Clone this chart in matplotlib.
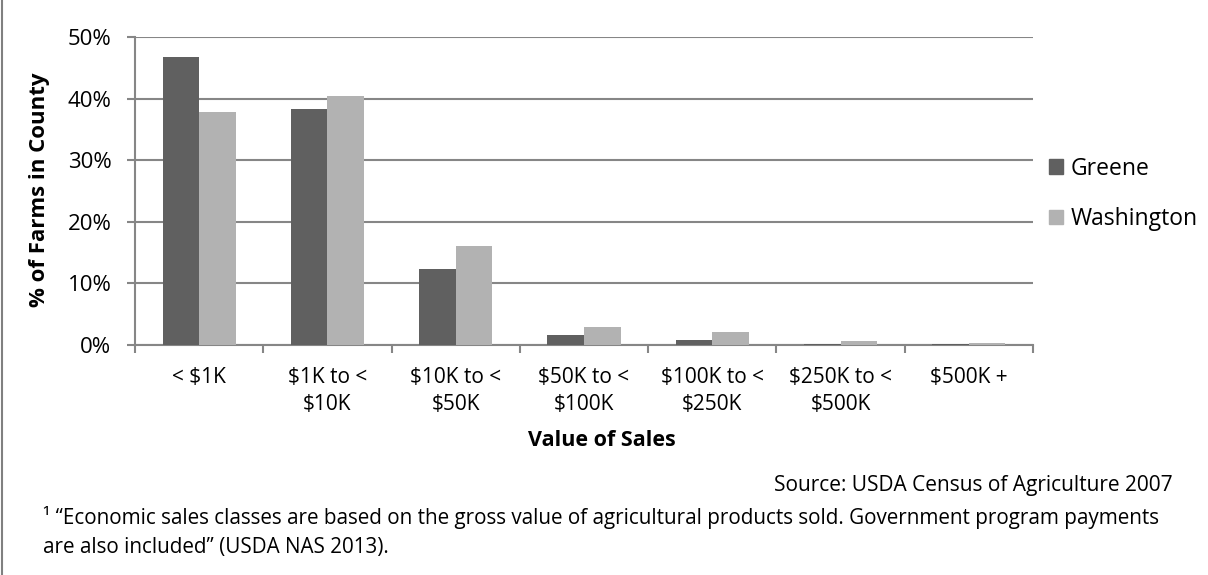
import matplotlib
matplotlib.use("Agg")
import matplotlib.pyplot as plt
import numpy as np
from matplotlib.lines import Line2D
from matplotlib.patches import Patch

# 販売額クラス別の農場割合 (%)
categories = ["< $1K", "$1K to <\n$10K", "$10K to <\n$50K", "$50K to <\n$100K",
              "$100K to <\n$250K", "$250K to <\n$500K", "$500K +"]
greene = [46.8, 38.3, 12.3, 1.7, 0.8, 0.15, 0.1]
washington = [37.9, 40.4, 16.0, 3.0, 2.1, 0.6, 0.3]
series = ["Greene", "Washington"]
colors = ["#606060", "#b2b2b2"]

plt.rcParams["font.family"] = ["Open Sans", "DejaVu Sans"]
GRID = "#868686"
W, H = 1208, 575

fig = plt.figure(figsize=(W / 100, H / 100), dpi=100)
ax = fig.add_axes([135 / W, 230 / H, 898 / W, 308 / H])

x = np.arange(len(categories))
w = 0.285
ax.bar(x - w / 2, greene, w, color=colors[0], zorder=3)
ax.bar(x + w / 2, washington, w, color=colors[1], zorder=3)

ax.set_xlim(-0.5, len(categories) - 0.5)
ax.set_ylim(0, 50)
ax.set_yticks(range(0, 51, 10))
ax.set_yticklabels([f"{v}%" for v in range(0, 51, 10)], fontsize=16)
ax.yaxis.grid(True, color=GRID, lw=1.5, zorder=0)
ax.tick_params(axis="y", length=6, width=1.5, color=GRID, pad=11)

# カテゴリ境界に目盛り、ラベルは中央
ax.set_xticks(np.arange(-0.5, len(categories), 1.0))
ax.set_xticklabels([])
ax.set_xticks(x, minor=True)
ax.set_xticklabels(categories, minor=True, fontsize=15, linespacing=1.38)
ax.tick_params(axis="x", which="major", length=6, width=1.5, color=GRID)
ax.tick_params(axis="x", which="minor", length=0, pad=16)

for s in ["top", "right"]:
    ax.spines[s].set_visible(False)
for s in ["left", "bottom"]:
    ax.spines[s].set_color(GRID)
    ax.spines[s].set_linewidth(1.5)

ax.set_xlabel("Value of Sales", fontsize=15.5, fontweight="bold", va="center")
ax.xaxis.set_label_coords((602 - 135) / 898, -(441 - 345) / 308)
ax.set_ylabel("% of Farms in County", fontsize=16, fontweight="bold", va="center")
ax.yaxis.set_label_coords((40 - 135) / 898, (345 - 190) / 308)

handles = [Patch(color=c) for c in colors]
fig.legend(handles, series, loc="center left", bbox_to_anchor=(1049 / W, 1 - 194 / H),
           frameon=False, fontsize=16.5, handlelength=0.6, handleheight=0.6,
           handletextpad=0.35, labelspacing=1.15, borderaxespad=0, borderpad=0)

fig.text(1173 / W, 1 - 486 / H, "Source: USDA Census of Agriculture 2007",
         ha="right", va="center", fontsize=15)
fig.text(43 / W, 1 - 532 / H,
         "\u00b9 \u201cEconomic sales classes are based on the gross value of agricultural "
         "products sold. Government program payments\nare also included\u201d (USDA NAS 2013).",
         ha="left", va="center", fontsize=14.85, linespacing=1.45)

# 左端の枠線
fig.add_artist(Line2D([1.5 / W, 1.5 / W], [0, 1], color="#808080", lw=1.5))

fig.savefig("out.png", dpi=100)
